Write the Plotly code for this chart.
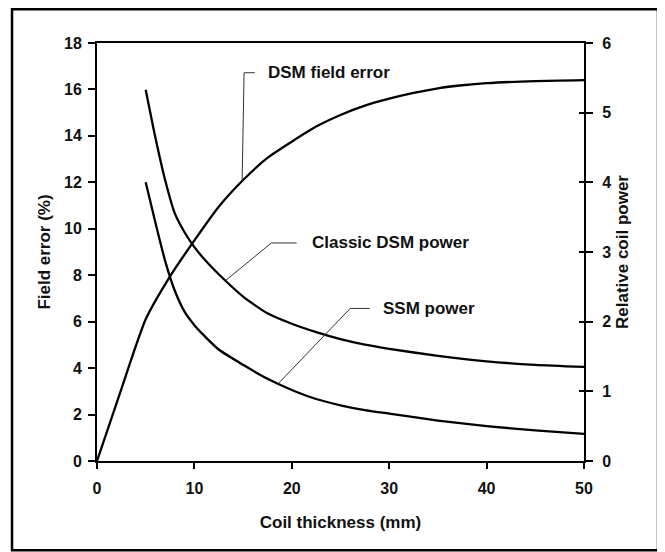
import numpy as np
import plotly.graph_objects as go

# ---- data ----
dsm_x = [0, 2.5, 5, 7.5, 10, 12.5, 15, 17.5, 20, 22.5, 25, 27.5, 30, 32.5, 35, 37.5, 40, 45, 50]
dsm_field_error = [0, 3.1, 6.1, 7.95, 9.5, 10.95, 12.1, 13.05, 13.75, 14.4, 14.9, 15.3, 15.6,
                   15.85, 16.05, 16.18, 16.27, 16.36, 16.4]

power_x = [5, 6, 7, 8, 9, 10, 11, 12.5, 15, 17.5, 20, 22.5, 25, 27.5, 30, 35, 40, 45, 50]
classic_dsm_power = [5.33, 4.64, 4.03, 3.55, 3.28, 3.07, 2.9, 2.68, 2.36, 2.12, 1.97, 1.85, 1.75,
                     1.67, 1.61, 1.51, 1.43, 1.38, 1.35]
ssm_power = [4.0, 3.42, 2.87, 2.44, 2.14, 1.95, 1.8, 1.6, 1.38, 1.18, 1.02, 0.89, 0.8,
             0.73, 0.68, 0.58, 0.5, 0.44, 0.39]

x_ticks = [0, 10, 20, 30, 40, 50]
left_ticks = [0, 2, 4, 6, 8, 10, 12, 14, 16, 18]
right_ticks = [0, 1, 2, 3, 4, 5, 6]

FONT = "Liberation Sans, Arial, sans-serif"
BLACK = "#000000"
TXT = "#111111"

fig = go.Figure()
line_style = dict(color=BLACK, width=2.3, shape="spline", smoothing=0.6)
fig.add_trace(go.Scatter(x=dsm_x, y=dsm_field_error, mode="lines", line=line_style,
                         name="DSM field error", yaxis="y"))
fig.add_trace(go.Scatter(x=power_x, y=classic_dsm_power, mode="lines", line=line_style,
                         name="Classic DSM power", yaxis="y2"))
fig.add_trace(go.Scatter(x=power_x, y=ssm_power, mode="lines", line=line_style,
                         name="SSM power", yaxis="y2"))

# ---- labels with leader lines (anchors taken from the curves) ----
labels = [
    # text, axis, curve x, elbow x, elbow y, end x, text x, xs, ys
    ("DSM field error", "y", 14.9, 15.1, 16.72, 16.2, 17.4, dsm_x, dsm_field_error),
    ("Classic DSM power", "y2", 13.2, 17.9, 3.13, 20.5, 21.9, power_x, classic_dsm_power),
    ("SSM power", "y2", 18.6, 26.0, 2.19, 28.0, 29.2, power_x, ssm_power),
]
shapes = []
annotations = []
for text, ax, cx, ex, ey, endx, tx, xs, ys in labels:
    cy = float(np.interp(cx, xs, ys))
    shapes.append(dict(type="path", xref="x", yref=ax,
                       path=f"M {cx},{cy} L {ex},{ey} L {endx},{ey}",
                       line=dict(color="#333333", width=1)))
    annotations.append(dict(x=tx, y=ey, xref="x", yref=ax, text=text, showarrow=False,
                            xanchor="left", yanchor="middle",
                            font=dict(family=FONT, size=17, color=TXT, weight="bold")))

# outer frame
shapes.append(dict(type="rect", xref="paper", yref="paper",
                   x0=-0.1745, x1=1.152, y0=-0.2135, y1=1.081,
                   line=dict(color=BLACK, width=2.5), fillcolor="rgba(0,0,0,0)", layer="below"))

tickfont = dict(family=FONT, size=16, color=TXT, weight="bold")
titlefont = dict(family=FONT, size=17, color=TXT, weight="bold")

fig.update_layout(
    width=657, height=544,
    margin=dict(l=89, r=81, t=35, b=91),
    paper_bgcolor="white", plot_bgcolor="white",
    showlegend=False,
    shapes=shapes,
    annotations=annotations,
    xaxis=dict(range=[0, 50], tickvals=x_ticks, ticks="outside", ticklen=6, tickwidth=2,
               tickcolor=BLACK, showline=True, linecolor=BLACK, linewidth=2, mirror=True,
               showgrid=False, zeroline=False, tickfont=tickfont, ticklabelstandoff=6,
               title=dict(text="Coil thickness (mm)", font=titlefont, standoff=20)),
    yaxis=dict(range=[0, 18], tickvals=left_ticks, ticks="outside", ticklen=7, tickwidth=2,
               tickcolor=BLACK, showline=True, linecolor=BLACK, linewidth=2,
               showgrid=False, zeroline=False, tickfont=tickfont, ticklabelstandoff=3,
               title=dict(text="Field error (%)", font=titlefont, standoff=9)),
    yaxis2=dict(range=[0, 6], tickvals=right_ticks, overlaying="y", side="right",
                ticks="outside", ticklen=7, tickwidth=2, tickcolor=BLACK,
                showline=True, linecolor=BLACK, linewidth=2,
                showgrid=False, zeroline=False, tickfont=tickfont, ticklabelstandoff=6,
                title=dict(text="Relative coil power", font=titlefont, standoff=6)),
    yaxis3=dict(range=[0, 6], tickvals=right_ticks, overlaying="y", side="right",
                ticks="inside", ticklen=5, tickwidth=2, tickcolor=BLACK,
                showline=False, showgrid=False, zeroline=False, showticklabels=False),
)
# invisible trace so the inside-tick overlay axis is drawn
fig.add_trace(go.Scatter(x=[None], y=[None], yaxis="y3", showlegend=False, hoverinfo="skip"))

fig.write_html("out.html")
